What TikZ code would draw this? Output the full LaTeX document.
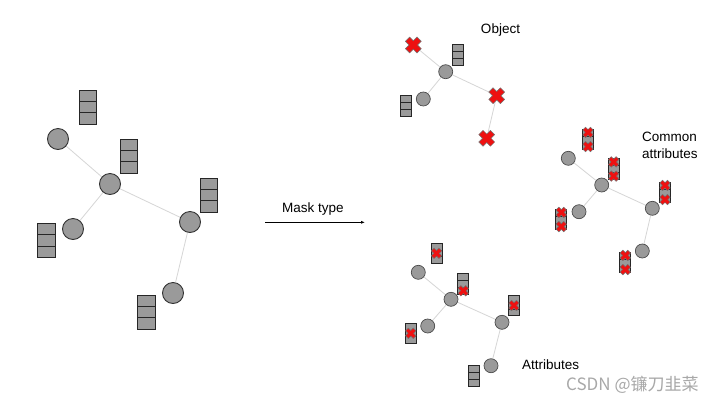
\documentclass[tikz,border=0pt]{standalone}
\usepackage{fontspec}
\setmainfont{Liberation Sans}
\newfontfamily\cjkfont{Noto Sans CJK SC}
\usetikzlibrary{calc,backgrounds,arrows.meta}
\definecolor{nodegray}{HTML}{9A9A9A}
\definecolor{edgegray}{HTML}{D6D6D6}
\definecolor{xred}{HTML}{EE1111}
\definecolor{wmgray}{HTML}{A8A8A8}
\tikzset{
  bigcirc/.style={circle, draw=black!80, fill=nodegray, line width=0.9pt, minimum size=21pt, inner sep=0pt},
  smallcirc/.style={circle, draw=black!70, fill=nodegray, line width=0.7pt, minimum size=14pt, inner sep=0pt},
  stackbox/.style={rectangle, draw=black!85, fill=nodegray, inner sep=0pt,
    path picture={
      \coordinate (pnw) at (path picture bounding box.north west);
      \coordinate (pse) at (path picture bounding box.south east);
      \draw[black!85] ($(pnw)!1/3!(pnw|-pse)$) -- ($(pse|-pnw)!1/3!(pse)$);
      \draw[black!85] ($(pnw)!2/3!(pnw|-pse)$) -- ($(pse|-pnw)!2/3!(pse)$);
    }},
  bigstack/.style={stackbox, minimum width=17.5pt, minimum height=34pt, line width=0.9pt},
  smallstack/.style={stackbox, minimum width=11pt, minimum height=20.5pt, line width=0.7pt},
  xnode/.style={circle, minimum size=13pt, inner sep=0pt},
  edge/.style={draw=edgegray, line width=0.8pt},
  lbl/.style={font=\fontsize{13.5}{16}\selectfont, inner sep=0pt},
  redx/.pic={
    \filldraw[fill=xred, draw=black!55, line width=0.5pt, rotate=45]
      (3,8.2) -- (3,3) -- (8.2,3) -- (8.2,-3) -- (3,-3) -- (3,-8.2)
      -- (-3,-8.2) -- (-3,-3) -- (-8.2,-3) -- (-8.2,3) -- (-3,3) -- (-3,8.2) -- cycle;
  }
}
\begin{document}
\begin{tikzpicture}[x=1pt, y=-1pt]
\begin{scope}[on background layer]
\fill[white] (0,0) rectangle (720,405);
\end{scope}
\useasboundingbox (0,0) rectangle (720,405);

% ---------- left graph ----------
\node[bigcirc] (l1) at (58,139) {};
\node[bigcirc] (l2) at (110,184) {};
\node[bigcirc] (l3) at (73,229) {};
\node[bigcirc] (l4) at (190,222) {};
\node[bigcirc] (l5) at (173,293) {};
\node[bigstack] (ls1) at (88,107) {};
\node[bigstack] (ls2) at (129,156) {};
\node[bigstack] (ls3) at (209,195) {};
\node[bigstack] (ls4) at (46.5,240.5) {};
\node[bigstack] (ls5) at (146.5,312) {};

% ---------- arrow ----------
\coordinate (as) at (265,222.3);
\coordinate (ae) at (365,222.3);
\draw[line width=0.7pt, -{Latex[length=4pt,width=3pt]}] (as) -- (ae);
\node[lbl] (mask) at (313,209) {Mask type};

% ---------- Object graph ----------
\node[xnode] (o1) at (413.3,45) {};
\node[smallstack] (os1) at (458.3,55) {};
\node[smallcirc] (o2) at (445.7,71.7) {};
\node[smallcirc] (o3) at (423.3,99) {};
\node[smallstack] (os2) at (405.7,106) {};
\node[xnode] (o4) at (496.7,95.7) {};
\node[xnode] (o5) at (486.7,138.3) {};
\pic at (o1) {redx};
\pic at (o4) {redx};
\pic at (o5) {redx};
\node[lbl] (tobj) at (500.5,30) {Object};

% ---------- Common attributes graph ----------
\node[smallcirc] (c1) at (568.3,158.3) {};
\node[smallcirc] (c2) at (601.7,185) {};
\node[smallcirc] (c3) at (579,211.7) {};
\node[smallcirc] (c4) at (652.3,208.3) {};
\node[smallcirc] (c5) at (642.3,251) {};
\node[smallstack] (cs1) at (588,139.5) {};
\node[smallstack] (cs2) at (613.7,169) {};
\node[smallstack] (cs3) at (561.3,219.5) {};
\node[smallstack] (cs4) at (665,192.5) {};
\node[smallstack] (cs5) at (625.3,262.5) {};
\foreach \s in {cs1,cs2,cs3,cs4,cs5}{
  \pic[scale=0.66] at ($(\s.north)!1/6!(\s.south)$) {redx};
  \pic[scale=0.66] at ($(\s.north)!5/6!(\s.south)$) {redx};
}
\node[lbl, align=left, anchor=north west, font=\fontsize{13.5}{17}\selectfont] (tcom) at (642,132) {Common\\attributes};

% ---------- Attributes graph ----------
\node[smallcirc] (a1) at (418.3,272.3) {};
\node[smallcirc] (a2) at (451,299.3) {};
\node[smallcirc] (a3) at (427.7,326) {};
\node[smallcirc] (a4) at (502,322.3) {};
\node[smallcirc] (a5) at (491,365.7) {};
\node[smallstack] (as1) at (436.5,253.3) {};
\node[smallstack] (as2) at (463.3,283.7) {};
\node[smallstack] (as3) at (410.8,333.3) {};
\node[smallstack] (as4) at (514,305.5) {};
\node[smallstack] (as5) at (473.8,376) {};
\pic[scale=0.66] at (as1.center) {redx};
\pic[scale=0.66] at ($(as2.north)!5/6!(as2.south)$) {redx};
\pic[scale=0.66] at (as3.center) {redx};
\pic[scale=0.66] at (as4.center) {redx};
\node[lbl, anchor=west] (tatt) at (522,365) {Attributes};

% ---------- watermark ----------
\node[inner sep=0pt, text=wmgray, font=\cjkfont\fontsize{17}{19}\selectfont, anchor=west] (wm) at (566,385) {CSDN @镰刀韭菜};

% ---------- edges ----------
\begin{scope}[on background layer]
\draw[edge] (l1) -- (l2);
\draw[edge] (l2) -- (l3);
\draw[edge] (l2) -- (l4);
\draw[edge] (l4) -- (l5);
\draw[edge] (o1) -- (o2);
\draw[edge] (o2) -- (o3);
\draw[edge] (o2) -- (o4);
\draw[edge] (o4) -- (o5);
\draw[edge] (c1) -- (c2);
\draw[edge] (c2) -- (c3);
\draw[edge] (c2) -- (c4);
\draw[edge] (c4) -- (c5);
\draw[edge] (a1) -- (a2);
\draw[edge] (a2) -- (a3);
\draw[edge] (a2) -- (a4);
\draw[edge] (a4) -- (a5);
\end{scope}
\end{tikzpicture}
\end{document}
